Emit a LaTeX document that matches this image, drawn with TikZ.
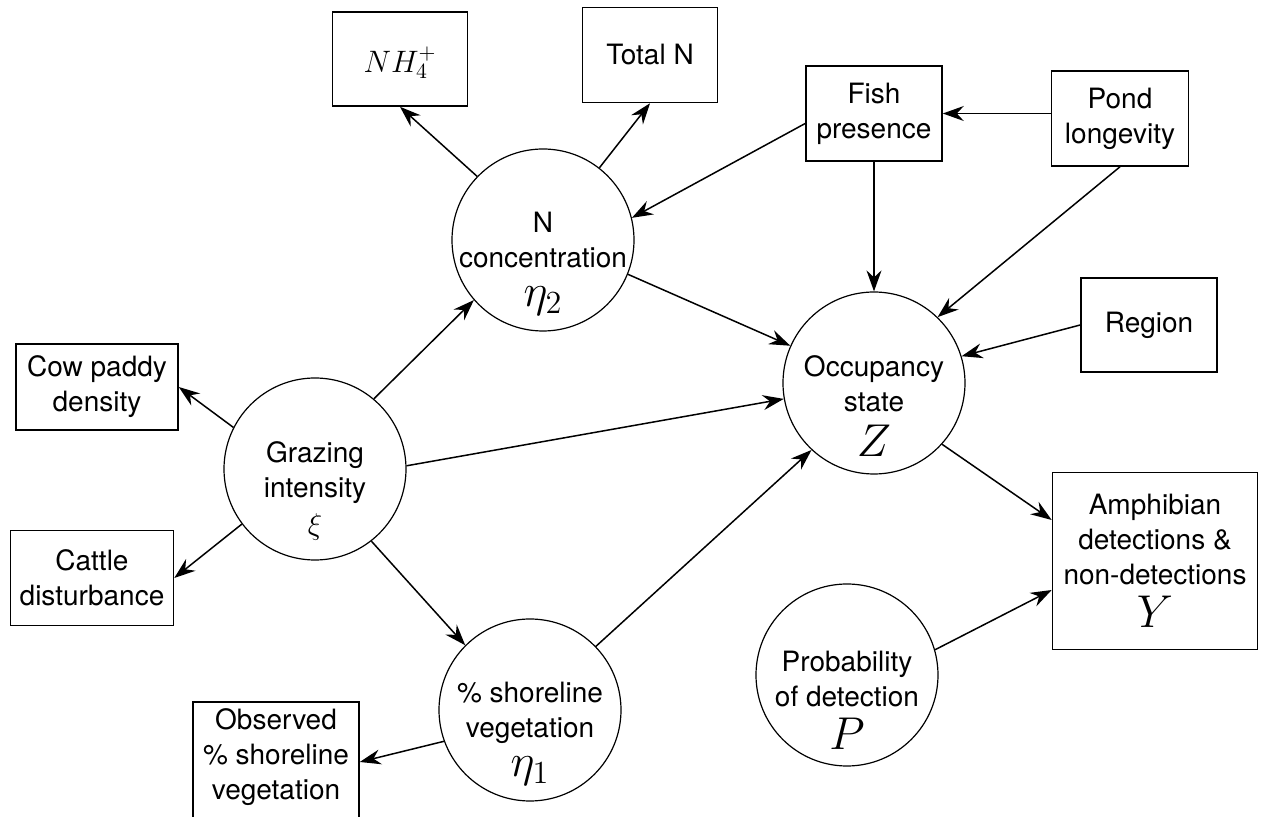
\RequirePackage{fix-cm}
\documentclass[tikz,border=0pt]{standalone}
\usepackage[no-math]{fontspec}
\setmainfont{TeX Gyre Heros}
\usetikzlibrary{arrows.meta,calc}
\newcommand\mytxt{\fontsize{14}{17.5}\selectfont}
\newcommand\mbg{\fontsize{23}{23}\selectfont}
\tikzset{
  circ/.style={draw, circle, minimum size=91pt, inner sep=0pt, line width=0.6pt},
  box/.style={draw, rectangle, inner sep=0pt, line width=0.8pt, align=center, font=\mytxt},
  lbl/.style={align=center, font=\mytxt, inner sep=0pt},
  arr/.style={-{Stealth[length=10.5pt,width=7.5pt,inset=3.5pt]}, line width=0.75pt},
}
\begin{document}
\begin{tikzpicture}[x=0.5pt,y=-0.5pt]
\useasboundingbox (0,0) rectangle (1266,817);
% boxes
\node[box, minimum width=67.5pt, minimum height=47pt] (nh4) at (400,59) {};
\node[lbl] (nh4t) at ([yshift=-2pt]nh4.center) {\fontsize{15.5}{18}\selectfont$NH_4^+$};
\node[box, minimum width=67.5pt, minimum height=47.5pt] (totn) at (650,55) {Total N};
\node[box, minimum width=68pt, minimum height=47.5pt] (fish) at (874,113.5) {Fish\\presence};
\node[box, minimum width=68.5pt, minimum height=47.5pt] (pond) at (1120,118.5) {Pond\\longevity};
\node[box, minimum width=68pt, minimum height=47pt] (region) at (1149,325) {Region};
\node[box, minimum width=102.5pt, minimum height=88.5pt] (amph) at (1155,561) {Amphibian\\detections \&\\non-detections\\[4pt]{\mbg$Y$}};
\node[box, minimum width=81pt, minimum height=43pt] (cow) at (97,387) {Cow paddy\\density};
\node[box, minimum width=81.5pt, minimum height=47.5pt] (cattle) at (92,578) {Cattle\\disturbance};
\node[box, minimum width=83pt, minimum height=60pt] (obs) at (276,762) {};
\node[lbl, anchor=north] (obst) at (276,708) {Observed\\\% shoreline\\vegetation};
% circles
\node[circ] (n2) at (543,240) {};
\node[lbl] (n2t) at ([yshift=-12pt]n2.center) {N\\concentration\\[2pt]{\mbg$\eta_2$}};
\node[circ] (occ) at (874,383) {};
\node[lbl] (occt) at ([yshift=-11.5pt]occ.center) {Occupancy\\state\\[5pt]{\mbg$Z$}};
\node[circ] (graz) at (315,469) {};
\node[lbl] (grazt) at ([yshift=-11pt]graz.center) {Grazing\\intensity\\[1pt]{\fontsize{15}{15}\selectfont$\xi$}};
\node[circ] (shore) at (530,710) {};
\node[lbl] (shoret) at ([yshift=-12pt]shore.center) {\% shoreline\\vegetation\\[2pt]{\mbg$\eta_1$}};
\node[circ] (prob) at (847,675) {};
\node[lbl] (probt) at ([yshift=-12.5pt]prob.center) {Probability\\of detection\\[4pt]{\mbg$P$}};
% connectors
\draw[arr] (n2.136) -- (nh4.south);
\draw[arr] (n2.52) -- (totn.south);
\draw[arr] ([yshift=-5pt]fish.west) -- (n2.14);
\draw[arr] (n2.-22) -- (occ.156);
\draw[arr] (graz.50) -- (n2.221);
\draw[arr] (graz.2) -- (occ.190);
\draw[arr] (graz.153) -- (cow.east);
\draw[arr] (graz.217) -- (cattle.east);
\draw[arr] (graz.-52) -- (shore.135);
\draw[arr] (shore.44) -- (occ.227);
\draw[arr] (shore.200) -- (obs.east);
\draw[arr] (fish.south) -- (occ.north);
\draw[arr] (pond.west |- fish.east) -- (fish.east);
\draw[arr] (pond.south) -- (occ.46);
\draw[arr] (region.west) -- (occ.17);
\draw[arr] (occ.-42) -- ([yshift=20.5pt]amph.west);
\draw[arr] (prob.16) -- ([yshift=-14.5pt]amph.west);
\end{tikzpicture}
\end{document}
